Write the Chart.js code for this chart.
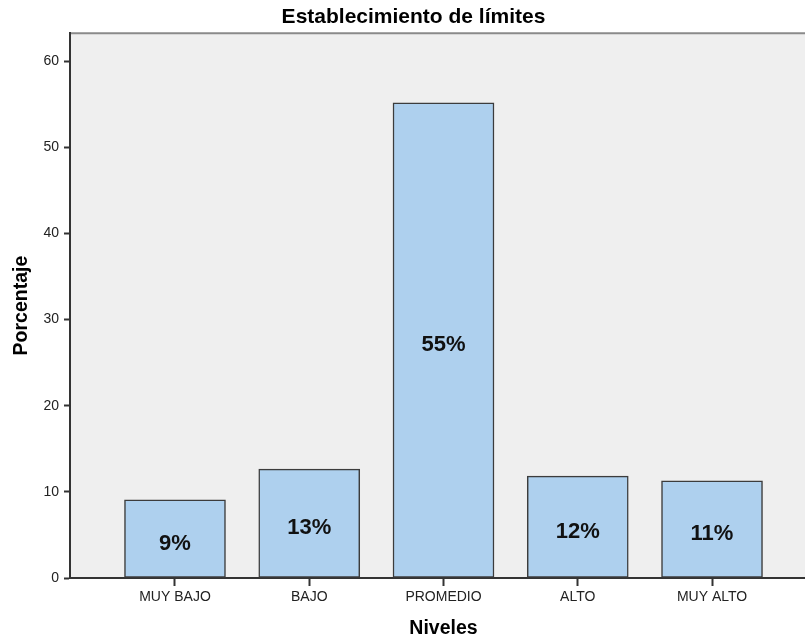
<!DOCTYPE html>
<html>
<head>
<meta charset="utf-8">
<script src="https://cdn.jsdelivr.net/npm/chart.js@4.4.1/dist/chart.umd.min.js"></script>
<style>
  html, body { margin: 0; padding: 0; background: #fff; }
  #wrap { width: 805px; height: 638px; overflow: hidden; }
</style>
</head>
<body>
<div id="wrap"><canvas id="chart" width="817" height="638"></canvas></div>
<script>
// Data
const categories = ['MUY BAJO', 'BAJO', 'PROMEDIO', 'ALTO', 'MUY ALTO'];
const percentages = [9.08, 12.64, 55.17, 11.83, 11.29];
const barLabels = ['9%', '13%', '55%', '12%', '11%'];
const yTicks = [0, 10, 20, 30, 40, 50, 60];

const FONT = "'Liberation Sans', Arial, sans-serif";

// light grey plot background + top frame line
const plotBackground = {
    id: 'plotBackground',
    beforeDraw(chart) {
        const { ctx, chartArea: a } = chart;
        ctx.save();
        ctx.fillStyle = '#efefef';
        ctx.fillRect(a.left, a.top, a.right - a.left, a.bottom - a.top);
        ctx.strokeStyle = '#8a8a8a';
        ctx.lineWidth = 2;
        ctx.beginPath();
        ctx.moveTo(a.left, a.top);
        ctx.lineTo(a.right, a.top);
        ctx.lineTo(a.right, a.bottom);
        ctx.stroke();
        ctx.restore();
    }
};

// percentage text in the middle of each bar
const barText = {
    id: 'barText',
    afterDatasetsDraw(chart) {
        const { ctx } = chart;
        const meta = chart.getDatasetMeta(0);
        ctx.save();
        ctx.font = 'bold 22px ' + FONT;
        ctx.fillStyle = '#111';
        ctx.textAlign = 'center';
        ctx.textBaseline = 'alphabetic';
        meta.data.forEach((bar, i) => {
            const mid = (bar.y + bar.base) / 2;
            ctx.fillText(barLabels[i], bar.x, mid + 11);
        });
        ctx.restore();
    }
};

const ctx = document.getElementById('chart').getContext('2d');

new Chart(ctx, {
    type: 'bar',
    data: {
        datasets: [{
            data: percentages.map((v, i) => ({ x: i, y: v })),
            backgroundColor: '#aed0ee',
            borderColor: '#3c3c3c',
            borderWidth: 1.5,
            borderSkipped: false,
            barThickness: 101
        }]
    },
    options: {
        responsive: false,
        animation: false,
        devicePixelRatio: 1,
        layout: { padding: { left: 10, right: 0, top: 0, bottom: 0 } },
        plugins: {
            legend: { display: false },
            tooltip: { enabled: false },
            title: {
                display: true,
                text: 'Establecimiento de límites',
                color: '#000',
                font: { family: FONT, size: 21, weight: 'bold', lineHeight: 1.2 },
                padding: { top: 5, bottom: 3 }
            }
        },
        scales: {
            x: {
                type: 'linear',
                offset: false,
                min: -0.782,
                max: 4.782,
                afterBuildTicks: (axis) => {
                    axis.ticks = categories.map((c, i) => ({ value: i }));
                },
                afterFit: (scale) => { scale.height = 60; },
                ticks: {
                    color: '#222',
                    font: { family: FONT, size: 14 },
                    padding: 3,
                    maxRotation: 0,
                    autoSkip: false,
                    callback: (value) => categories[value]
                },
                grid: {
                    offset: false,
                    drawOnChartArea: false,
                    drawTicks: true,
                    tickLength: 8,
                    tickWidth: 2,
                    tickColor: '#333'
                },
                border: { display: true, color: '#333', width: 2 },
                title: {
                    display: true,
                    text: 'Niveles',
                    color: '#000',
                    font: { family: FONT, size: 19.5, weight: 'bold', lineHeight: 1 },
                    padding: { top: 0, bottom: 0 }
                }
            },
            y: {
                min: 0,
                max: 63.26,
                afterBuildTicks: (axis) => {
                    axis.ticks = yTicks.map(v => ({ value: v }));
                },
                afterFit: (scale) => { scale.width = 60; },
                ticks: {
                    color: '#222',
                    font: { family: FONT, size: 14 },
                    padding: 5
                },
                grid: {
                    drawOnChartArea: false,
                    drawTicks: true,
                    tickLength: 6,
                    tickWidth: 2,
                    tickColor: '#333'
                },
                border: { display: true, color: '#333', width: 2 },
                title: {
                    display: true,
                    text: 'Porcentaje',
                    color: '#000',
                    font: { family: FONT, size: 19.5, weight: 'bold', lineHeight: 1 },
                    padding: { top: 2, bottom: 0 }
                }
            }
        }
    },
    plugins: [plotBackground, barText]
});
</script>
</body>
</html>
